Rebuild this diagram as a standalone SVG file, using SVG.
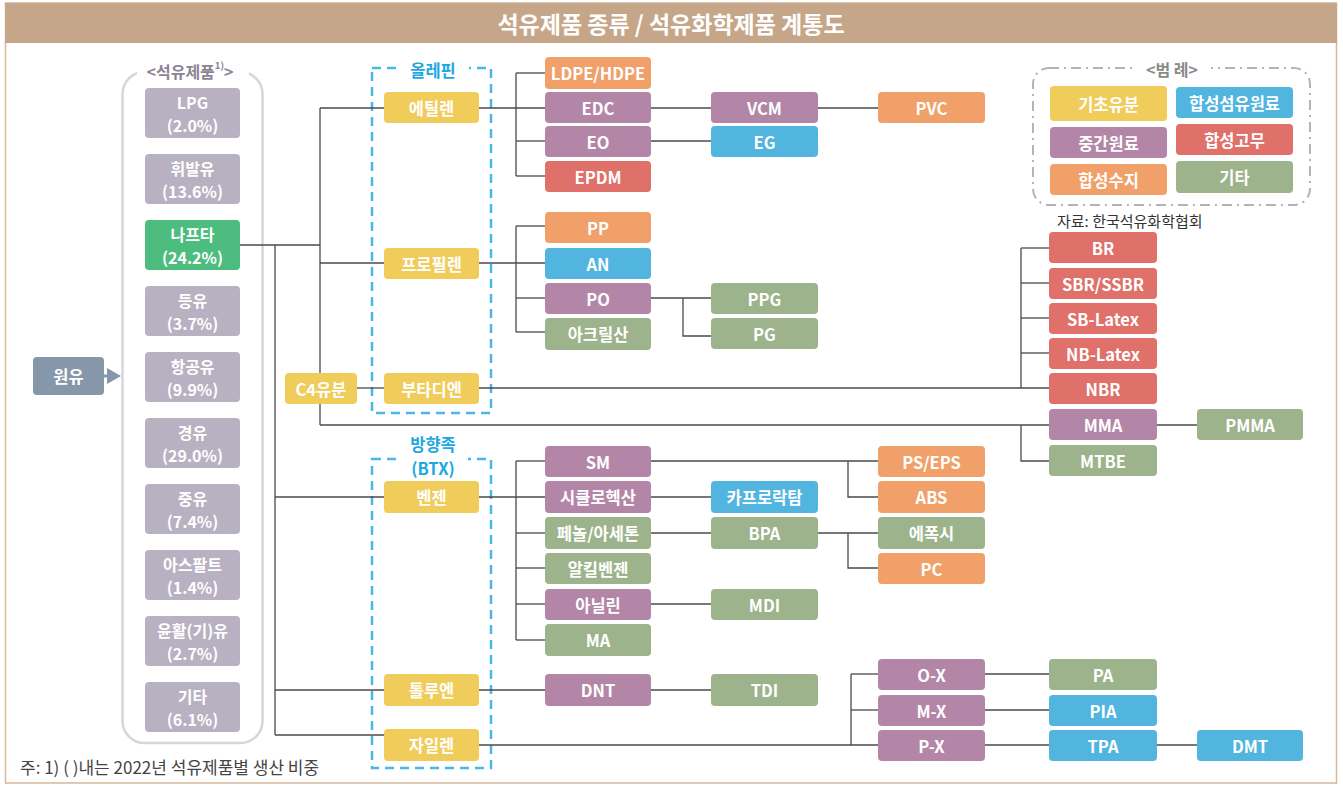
<svg xmlns="http://www.w3.org/2000/svg" width="1343" height="785" viewBox="0 0 1343 785">
<style>
text{font-family:"Noto Sans CJK KR","Noto Sans",sans-serif;}
.b{stroke:none;}
.t{fill:#fff;font-size:16.5px;font-weight:700;text-anchor:middle;dominant-baseline:central;}
.pt{fill:#fff;font-size:16px;font-weight:700;text-anchor:middle;dominant-baseline:central;}
.yel{fill:#f0cc5a}.pur{fill:#b386a8}.org{fill:#f2a06a}.blu{fill:#52b5e0}.red{fill:#e0706a}.grn{fill:#9db38c}.gry{fill:#b8b1c1}.nap{fill:#4cbd7e}
.ln{stroke:#4a4a4a;stroke-width:1.3;fill:none;}
.dash{stroke:#4ab8e6;stroke-width:2.5;fill:none;stroke-dasharray:9 6;}
.grp{fill:#1ea8e2;font-size:16.5px;font-weight:700;text-anchor:middle;dominant-baseline:central;}
</style>
<rect x="0" y="0" width="1343" height="785" fill="#fff"/>
<rect x="5.5" y="3" width="1331" height="780" fill="none" stroke="#d6b89a" stroke-width="1.5"/>
<rect x="5" y="3" width="1332" height="40" fill="#c6a688"/>
<text x="671" y="23" fill="#fff" font-size="23" font-weight="700" text-anchor="middle" dominant-baseline="central">석유제품 종류 / 석유화학제품 계통도</text>

<!-- left panel -->
<rect x="122.5" y="72" width="140" height="671" rx="22" fill="none" stroke="#d8d4de" stroke-width="2.5"/>
<rect x="137" y="60" width="112" height="20" fill="#fff"/>
<text x="190" y="71" fill="#8c8496" font-size="16" font-weight="700" text-anchor="middle" dominant-baseline="central">&lt;석유제품<tspan font-size="9.5" dy="-6">1)</tspan><tspan dy="6">&gt;</tspan></text>

<!-- legend -->
<g id="legend">
<rect x="1033" y="68" width="277" height="137" rx="16" fill="none" stroke="#b4b4b4" stroke-width="2" stroke-dasharray="10 5 2 5"/>
<rect x="1133" y="58" width="78" height="22" fill="#fff"/>
<text x="1172" y="69" fill="#8a8a8a" font-size="16" font-weight="700" text-anchor="middle" dominant-baseline="central">&lt;범 례&gt;</text>
<rect class="b yel" x="1050" y="86" width="117" height="35" rx="4"/><text class="t" x="1108.5" y="103.5">기초유분</text>
<rect class="b pur" x="1050" y="127" width="117" height="31" rx="4"/><text class="t" x="1108.5" y="142.5">중간원료</text>
<rect class="b org" x="1050" y="164" width="117" height="31" rx="4"/><text class="t" x="1108.5" y="179.5">합성수지</text>
<rect class="b blu" x="1176" y="87" width="117" height="31" rx="4"/><text class="t" x="1234.5" y="102.5">합성섬유원료</text>
<rect class="b red" x="1176" y="124" width="117" height="31" rx="4"/><text class="t" x="1234.5" y="139.5">합성고무</text>
<rect class="b grn" x="1176" y="161" width="117" height="32" rx="4"/><text class="t" x="1234.5" y="177">기타</text>
</g>
<text x="1057" y="220" fill="#333" font-size="15" dominant-baseline="central">자료: 한국석유화학협회</text>
<text x="20" y="766" fill="#444" font-size="17" dominant-baseline="central">주: 1) (  )내는 2022년 석유제품별 생산 비중</text>

<!-- group dashed boxes -->
<g id="olefin">
<rect class="dash" x="372" y="68" width="119" height="345"/>
<rect x="397" y="58" width="72" height="22" fill="#fff"/>
<text class="grp" x="433" y="70">올레핀</text>
</g>
<g id="aromatic">
<rect class="dash" x="372" y="459" width="119" height="309"/>
<rect x="398" y="452" width="70" height="28" fill="#fff"/>
<text class="grp" x="433" y="444">방향족</text>
<text class="grp" x="433" y="468">(BTX)</text>
</g>

<!-- connectors -->
<g id="connectors">
<polyline class="ln" points="240,245 320,245"/>
<line class="ln" x1="275" y1="245" x2="275" y2="735"/>
<line class="ln" x1="320" y1="108" x2="320" y2="425"/>
<line class="ln" x1="320" y1="108" x2="384" y2="108"/>
<line class="ln" x1="320" y1="263" x2="384" y2="263"/>
<line class="ln" x1="357" y1="388" x2="384" y2="388"/>
<line class="ln" x1="320" y1="425" x2="1049" y2="425"/>
<line class="ln" x1="275" y1="497" x2="384" y2="497"/>
<line class="ln" x1="275" y1="690" x2="384" y2="690"/>
<line class="ln" x1="275" y1="735" x2="384" y2="735"/>
<!-- ethylene -->
<line class="ln" x1="479" y1="108" x2="545" y2="108"/>
<line class="ln" x1="516" y1="73" x2="516" y2="176"/>
<line class="ln" x1="516" y1="73" x2="545" y2="73"/>
<line class="ln" x1="516" y1="141" x2="545" y2="141"/>
<line class="ln" x1="516" y1="176" x2="545" y2="176"/>
<line class="ln" x1="651" y1="108" x2="711" y2="108"/>
<line class="ln" x1="818" y1="108" x2="878" y2="108"/>
<line class="ln" x1="651" y1="141" x2="711" y2="141"/>
<!-- propylene -->
<line class="ln" x1="479" y1="263" x2="545" y2="263"/>
<line class="ln" x1="516" y1="226" x2="516" y2="332"/>
<line class="ln" x1="516" y1="226" x2="545" y2="226"/>
<line class="ln" x1="516" y1="298" x2="545" y2="298"/>
<line class="ln" x1="516" y1="332" x2="545" y2="332"/>
<line class="ln" x1="651" y1="298" x2="711" y2="298"/>
<polyline class="ln" points="683,298 683,336 711,336"/>
<!-- butadiene -->
<line class="ln" x1="479" y1="388" x2="1049" y2="388"/>
<line class="ln" x1="1021" y1="248" x2="1021" y2="388"/>
<line class="ln" x1="1021" y1="248" x2="1049" y2="248"/>
<line class="ln" x1="1021" y1="283" x2="1049" y2="283"/>
<line class="ln" x1="1021" y1="318" x2="1049" y2="318"/>
<line class="ln" x1="1021" y1="353" x2="1049" y2="353"/>
<polyline class="ln" points="1021,425 1021,461 1049,461"/>
<line class="ln" x1="1157" y1="425" x2="1197" y2="425"/>
<!-- benzene -->
<line class="ln" x1="479" y1="497" x2="545" y2="497"/>
<line class="ln" x1="516" y1="461" x2="516" y2="640"/>
<line class="ln" x1="516" y1="461" x2="545" y2="461"/>
<line class="ln" x1="516" y1="533" x2="545" y2="533"/>
<line class="ln" x1="516" y1="568" x2="545" y2="568"/>
<line class="ln" x1="516" y1="604" x2="545" y2="604"/>
<line class="ln" x1="516" y1="640" x2="545" y2="640"/>
<line class="ln" x1="651" y1="461" x2="878" y2="461"/>
<polyline class="ln" points="848,461 848,497 878,497"/>
<line class="ln" x1="651" y1="497" x2="711" y2="497"/>
<line class="ln" x1="651" y1="533" x2="711" y2="533"/>
<line class="ln" x1="818" y1="533" x2="878" y2="533"/>
<polyline class="ln" points="848,533 848,568 878,568"/>
<line class="ln" x1="651" y1="604" x2="711" y2="604"/>
<!-- toluene / xylene -->
<line class="ln" x1="479" y1="690" x2="545" y2="690"/>
<line class="ln" x1="651" y1="690" x2="711" y2="690"/>
<line class="ln" x1="479" y1="745" x2="878" y2="745"/>
<line class="ln" x1="851" y1="674" x2="851" y2="745"/>
<line class="ln" x1="851" y1="674" x2="878" y2="674"/>
<line class="ln" x1="851" y1="710" x2="878" y2="710"/>
<line class="ln" x1="985" y1="674" x2="1049" y2="674"/>
<line class="ln" x1="985" y1="710" x2="1049" y2="710"/>
<line class="ln" x1="985" y1="745" x2="1049" y2="745"/>
<line class="ln" x1="1157" y1="745" x2="1197" y2="745"/>
<!-- crude arrow -->
<line x1="104" y1="376" x2="110" y2="376" stroke="#8797aa" stroke-width="3"/>
<polygon points="107,368 121,376 107,384" fill="#8797aa"/>
</g>

<!-- crude -->
<g id="n-crude"><rect class="b" fill="#8797aa" x="33" y="357" width="71" height="38" rx="4"/><text class="t" x="68.5" y="376">원유</text></g>

<!-- petroleum products -->
<g id="n-lpg"><rect class="b gry" x="145" y="88" width="95" height="50" rx="4"/><text class="pt" x="192.5" y="101.5">LPG</text><text class="pt" x="192.5" y="124.5">(2.0%)</text></g>
<g id="n-gasoline"><rect class="b gry" x="145" y="154" width="95" height="50" rx="4"/><text class="pt" x="192.5" y="167.5">휘발유</text><text class="pt" x="192.5" y="190.5">(13.6%)</text></g>
<g id="n-naphtha"><rect class="b nap" x="145" y="220" width="95" height="50" rx="4"/><text class="pt" x="192.5" y="233.5">나프타</text><text class="pt" x="192.5" y="256.5">(24.2%)</text></g>
<g id="n-kerosene"><rect class="b gry" x="145" y="286" width="95" height="50" rx="4"/><text class="pt" x="192.5" y="299.5">등유</text><text class="pt" x="192.5" y="322.5">(3.7%)</text></g>
<g id="n-jet"><rect class="b gry" x="145" y="352" width="95" height="50" rx="4"/><text class="pt" x="192.5" y="365.5">항공유</text><text class="pt" x="192.5" y="388.5">(9.9%)</text></g>
<g id="n-diesel"><rect class="b gry" x="145" y="418" width="95" height="50" rx="4"/><text class="pt" x="192.5" y="431.5">경유</text><text class="pt" x="192.5" y="454.5">(29.0%)</text></g>
<g id="n-heavy"><rect class="b gry" x="145" y="484" width="95" height="50" rx="4"/><text class="pt" x="192.5" y="497.5">중유</text><text class="pt" x="192.5" y="520.5">(7.4%)</text></g>
<g id="n-asphalt"><rect class="b gry" x="145" y="550" width="95" height="50" rx="4"/><text class="pt" x="192.5" y="563.5">아스팔트</text><text class="pt" x="192.5" y="586.5">(1.4%)</text></g>
<g id="n-lube"><rect class="b gry" x="145" y="616" width="95" height="50" rx="4"/><text class="pt" x="192.5" y="629.5">윤활(기)유</text><text class="pt" x="192.5" y="652.5">(2.7%)</text></g>
<g id="n-etc"><rect class="b gry" x="145" y="682" width="95" height="50" rx="4"/><text class="pt" x="192.5" y="695.5">기타</text><text class="pt" x="192.5" y="718.5">(6.1%)</text></g>

<!-- basic -->
<g id="n-ethylene"><rect class="b yel" x="384" y="92" width="95" height="31" rx="4"/><text class="t" x="431.5" y="107.5">에틸렌</text></g>
<g id="n-propylene"><rect class="b yel" x="384" y="248" width="95" height="31" rx="4"/><text class="t" x="431.5" y="263.5">프로필렌</text></g>
<g id="n-c4"><rect class="b yel" x="285" y="373" width="72" height="31" rx="4"/><text class="t" x="321" y="388.5">C4유분</text></g>
<g id="n-butadiene"><rect class="b yel" x="384" y="373" width="95" height="31" rx="4"/><text class="t" x="431.5" y="388.5">부타디엔</text></g>
<g id="n-benzene"><rect class="b yel" x="384" y="481" width="95" height="32" rx="4"/><text class="t" x="431.5" y="497">벤젠</text></g>
<g id="n-toluene"><rect class="b yel" x="384" y="674" width="95" height="32" rx="4"/><text class="t" x="431.5" y="690">톨루엔</text></g>
<g id="n-xylene"><rect class="b yel" x="384" y="729" width="95" height="32" rx="4"/><text class="t" x="431.5" y="745">자일렌</text></g>

<!-- col2 -->
<g id="n-ldpe"><rect class="b org" x="545" y="57" width="106" height="32" rx="4"/><text class="t" x="598" y="73">LDPE/HDPE</text></g>
<g id="n-edc"><rect class="b pur" x="545" y="92" width="106" height="31" rx="4"/><text class="t" x="598" y="107.5">EDC</text></g>
<g id="n-eo"><rect class="b pur" x="545" y="126" width="106" height="31" rx="4"/><text class="t" x="598" y="141.5">EO</text></g>
<g id="n-epdm"><rect class="b red" x="545" y="161" width="106" height="31" rx="4"/><text class="t" x="598" y="176.5">EPDM</text></g>
<g id="n-pp"><rect class="b org" x="545" y="212" width="106" height="31" rx="4"/><text class="t" x="598" y="227.5">PP</text></g>
<g id="n-an"><rect class="b blu" x="545" y="248" width="106" height="31" rx="4"/><text class="t" x="598" y="263.5">AN</text></g>
<g id="n-po"><rect class="b pur" x="545" y="283" width="106" height="31" rx="4"/><text class="t" x="598" y="298.5">PO</text></g>
<g id="n-acrylic"><rect class="b grn" x="545" y="318" width="106" height="32" rx="4"/><text class="t" x="598" y="334">아크릴산</text></g>
<g id="n-sm"><rect class="b pur" x="545" y="446" width="106" height="31" rx="4"/><text class="t" x="598" y="461.5">SM</text></g>
<g id="n-cyclohexane"><rect class="b pur" x="545" y="481" width="106" height="32" rx="4"/><text class="t" x="598" y="497">시클로헥산</text></g>
<g id="n-phenol"><rect class="b grn" x="545" y="517" width="106" height="32" rx="4"/><text class="t" x="598" y="533">페놀/아세톤</text></g>
<g id="n-alkyl"><rect class="b grn" x="545" y="553" width="106" height="31" rx="4"/><text class="t" x="598" y="568.5">알킬벤젠</text></g>
<g id="n-aniline"><rect class="b pur" x="545" y="589" width="106" height="31" rx="4"/><text class="t" x="598" y="604.5">아닐린</text></g>
<g id="n-ma"><rect class="b grn" x="545" y="624" width="106" height="32" rx="4"/><text class="t" x="598" y="640">MA</text></g>
<g id="n-dnt"><rect class="b pur" x="545" y="674" width="106" height="32" rx="4"/><text class="t" x="598" y="690">DNT</text></g>

<!-- col3 -->
<g id="n-vcm"><rect class="b pur" x="711" y="92" width="107" height="31" rx="4"/><text class="t" x="764.5" y="107.5">VCM</text></g>
<g id="n-eg"><rect class="b blu" x="711" y="126" width="107" height="31" rx="4"/><text class="t" x="764.5" y="141.5">EG</text></g>
<g id="n-ppg"><rect class="b grn" x="711" y="283" width="107" height="31" rx="4"/><text class="t" x="764.5" y="298.5">PPG</text></g>
<g id="n-pg"><rect class="b grn" x="711" y="318" width="107" height="31" rx="4"/><text class="t" x="764.5" y="333.5">PG</text></g>
<g id="n-caprolactam"><rect class="b blu" x="711" y="481" width="107" height="32" rx="4"/><text class="t" x="764.5" y="497">카프로락탐</text></g>
<g id="n-bpa"><rect class="b grn" x="711" y="517" width="107" height="32" rx="4"/><text class="t" x="764.5" y="533">BPA</text></g>
<g id="n-mdi"><rect class="b grn" x="711" y="589" width="107" height="31" rx="4"/><text class="t" x="764.5" y="604.5">MDI</text></g>
<g id="n-tdi"><rect class="b grn" x="711" y="674" width="107" height="32" rx="4"/><text class="t" x="764.5" y="690">TDI</text></g>

<!-- col4 -->
<g id="n-pvc"><rect class="b org" x="878" y="92" width="107" height="31" rx="4"/><text class="t" x="931.5" y="107.5">PVC</text></g>
<g id="n-ps"><rect class="b org" x="878" y="446" width="107" height="31" rx="4"/><text class="t" x="931.5" y="461.5">PS/EPS</text></g>
<g id="n-abs"><rect class="b org" x="878" y="481" width="107" height="32" rx="4"/><text class="t" x="931.5" y="497">ABS</text></g>
<g id="n-epoxy"><rect class="b grn" x="878" y="517" width="107" height="32" rx="4"/><text class="t" x="931.5" y="533">에폭시</text></g>
<g id="n-pc"><rect class="b org" x="878" y="553" width="107" height="31" rx="4"/><text class="t" x="931.5" y="568.5">PC</text></g>
<g id="n-ox"><rect class="b pur" x="878" y="659" width="107" height="31" rx="4"/><text class="t" x="931.5" y="674.5">O-X</text></g>
<g id="n-mx"><rect class="b pur" x="878" y="695" width="107" height="31" rx="4"/><text class="t" x="931.5" y="710.5">M-X</text></g>
<g id="n-px"><rect class="b pur" x="878" y="730" width="107" height="31" rx="4"/><text class="t" x="931.5" y="745.5">P-X</text></g>

<!-- col5 -->
<g id="n-br"><rect class="b red" x="1049" y="232" width="108" height="31" rx="4"/><text class="t" x="1103" y="247.5">BR</text></g>
<g id="n-sbr"><rect class="b red" x="1049" y="268" width="108" height="31" rx="4"/><text class="t" x="1103" y="283.5">SBR/SSBR</text></g>
<g id="n-sblatex"><rect class="b red" x="1049" y="303" width="108" height="31" rx="4"/><text class="t" x="1103" y="318.5">SB-Latex</text></g>
<g id="n-nblatex"><rect class="b red" x="1049" y="338" width="108" height="31" rx="4"/><text class="t" x="1103" y="353.5">NB-Latex</text></g>
<g id="n-nbr"><rect class="b red" x="1049" y="373" width="108" height="31" rx="4"/><text class="t" x="1103" y="388.5">NBR</text></g>
<g id="n-mma"><rect class="b pur" x="1049" y="409" width="108" height="31" rx="4"/><text class="t" x="1103" y="424.5">MMA</text></g>
<g id="n-mtbe"><rect class="b grn" x="1049" y="445" width="108" height="31" rx="4"/><text class="t" x="1103" y="460.5">MTBE</text></g>
<g id="n-pa"><rect class="b grn" x="1049" y="659" width="108" height="31" rx="4"/><text class="t" x="1103" y="674.5">PA</text></g>
<g id="n-pia"><rect class="b blu" x="1049" y="695" width="108" height="31" rx="4"/><text class="t" x="1103" y="710.5">PIA</text></g>
<g id="n-tpa"><rect class="b blu" x="1049" y="730" width="108" height="31" rx="4"/><text class="t" x="1103" y="745.5">TPA</text></g>

<!-- col6 -->
<g id="n-pmma"><rect class="b grn" x="1197" y="409" width="106" height="31" rx="4"/><text class="t" x="1250" y="424.5">PMMA</text></g>
<g id="n-dmt"><rect class="b blu" x="1197" y="730" width="106" height="31" rx="4"/><text class="t" x="1250" y="745.5">DMT</text></g>
</svg>
